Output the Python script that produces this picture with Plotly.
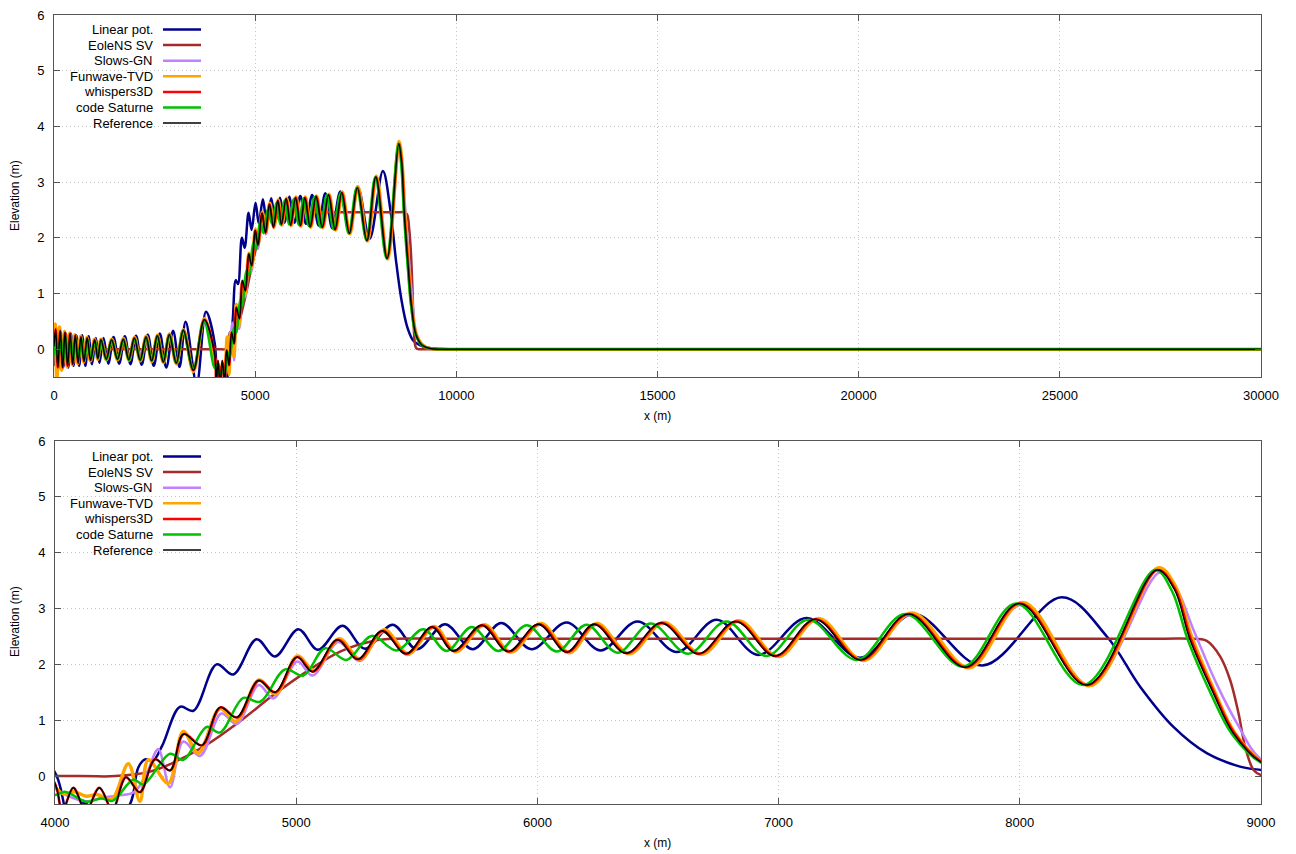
import plotly.graph_objects as go

# ---------------- data ----------------
series_names = ["Linear pot.", "EoleNS SV", "Slows-GN", "Funwave-TVD",
                "whispers3D", "code Saturne", "Reference"]

lin_x = [0, 50, 110, 170, 230, 295, 355, 420, 485, 555, 625, 700, 780, 860, 945, 1040, 1130, 1230, 1350, 1480,
         1620, 1760, 1900, 2040, 2180, 2330, 2480, 2630, 2790, 2960, 3120, 3272, 3546, 3778, 3993, 4060, 4120, 4220, 4311, 4345,
         4373, 4405, 4445, 4518, 4574, 4670, 4739, 4836, 4912, 5009, 5090, 5192, 5285, 5400, 5500, 5617, 5732, 5850, 5975, 6121,
         6262, 6415, 6578, 6743, 6916, 7116, 7338, 7560, 7845, 8174, 8361, 8499, 8637, 8775, 8913, 9000, 9200, 9500, 9800, 10100,
         30000]
lin_y = [-0.30, 0.28, -0.35, 0.30, -0.33, 0.28, -0.33, 0.28, -0.30, 0.25, -0.30, 0.25, -0.30, 0.23, -0.27, 0.20, -0.25, 0.20, -0.26, 0.22,
         -0.26, 0.23, -0.27, 0.24, -0.28, 0.26, -0.30, 0.28, -0.33, 0.33, -0.32, 0.49, -0.62, 0.67, 0.11, -0.75, -0.48, -0.90, -0.50, 0.15,
         0.30, 0.27, 0.55, 1.24, 1.17, 2.00, 1.82, 2.45, 2.14, 2.63, 2.26, 2.69, 2.28, 2.71, 2.27, 2.72, 2.27, 2.74, 2.27, 2.75,
         2.25, 2.77, 2.22, 2.80, 2.17, 2.83, 2.12, 2.90, 1.98, 3.20, 2.50, 1.60, 0.88, 0.41, 0.17, 0.11, 0.04, 0.01, 0.0, 0.0,
         0.0]

eole_x = [0, 4100, 4250, 4394, 4491, 4629, 4767, 4905, 5043, 5182, 5320, 5420, 5600, 8600, 8700, 8775, 8831, 8872, 8907, 8934,
          8969, 9000, 9050, 9100, 30000]
eole_y = [0.0, 0.0, 0.0, 0.08, 0.24, 0.56, 0.98, 1.45, 1.87, 2.23, 2.42, 2.46, 2.46, 2.46, 2.46, 2.42, 2.14, 1.72, 1.12, 0.53,
          0.11, 0.02, 0.0, 0.0, 0.0]

slo_x = [0, 45, 100, 160, 220, 282, 345, 405, 470, 535, 605, 675, 750, 830, 915, 1012, 1092, 1170, 1302, 1435,
         1580, 1725, 1862, 1999, 2144, 2289, 2430, 2570, 2720, 2869, 3042, 3218, 3466, 3740, 3993, 4050, 4130, 4200, 4260, 4330,
         4380, 4428, 4477, 4532, 4601, 4690, 4753, 4845, 4905, 5005, 5068, 5175, 5262, 5362, 5462, 5570, 5660, 5777, 5887, 6012,
         6130, 6244, 6376, 6520, 6676, 6830, 6994, 7160, 7350, 7548, 7790, 8008, 8290, 8582, 8650, 8720, 8815, 8900, 9000, 9150,
         9350, 9700, 10000, 30000]
slo_y = [0.0, 0.28, -0.28, 0.28, -0.28, 0.26, -0.26, 0.25, -0.25, 0.22, -0.22, 0.20, -0.20, 0.18, -0.18, 0.16, -0.16, 0.16, -0.17, 0.16,
         -0.17, 0.17, -0.18, 0.19, -0.19, 0.21, -0.20, 0.23, -0.22, 0.25, -0.24, 0.33, -0.37, 0.52, -0.20, -0.35, -0.45, -0.38, -0.35, -0.28,
         0.05, 0.48, -0.20, 0.62, 0.36, 1.12, 0.93, 1.63, 1.39, 2.05, 1.80, 2.40, 2.06, 2.58, 2.17, 2.66, 2.22, 2.69, 2.22, 2.71,
         2.21, 2.71, 2.20, 2.73, 2.18, 2.76, 2.14, 2.80, 2.08, 2.89, 1.95, 3.07, 1.63, 3.65, 3.35, 2.62, 1.66, 0.95, 0.30, 0.09,
         0.01, 0.0, 0.0, 0.0]

fun_x = [0, 30, 70, 135, 195, 260, 325, 390, 455, 520, 590, 662, 738, 818, 905, 1005, 1088, 1168, 1300, 1436,
         1580, 1726, 1862, 2000, 2145, 2290, 2430, 2572, 2720, 2870, 3042, 3220, 3465, 3740, 3993, 4036, 4080, 4130, 4175, 4235,
         4304, 4352, 4387, 4470, 4532, 4594, 4684, 4750, 4845, 4915, 5005, 5075, 5178, 5265, 5365, 5465, 5572, 5662, 5780, 5890,
         6015, 6133, 6246, 6380, 6524, 6680, 6835, 6998, 7165, 7352, 7552, 7790, 8012, 8290, 8575, 8645, 8712, 8807, 8890, 9000,
         9150, 9350, 9700, 10000, 30000]
fun_y = [0.20, 0.45, -0.55, 0.40, -0.38, 0.32, -0.32, 0.29, -0.28, 0.26, -0.26, 0.23, -0.23, 0.21, -0.21, 0.18, -0.18, 0.18, -0.19, 0.18,
         -0.19, 0.19, -0.20, 0.21, -0.21, 0.23, -0.22, 0.25, -0.24, 0.27, -0.26, 0.35, -0.40, 0.55, -0.18, -0.32, -0.28, -0.36, -0.33, -0.42,
         0.22, -0.45, 0.29, -0.13, 0.80, 0.41, 1.21, 0.98, 1.72, 1.47, 2.15, 1.89, 2.46, 2.09, 2.62, 2.19, 2.68, 2.23, 2.71, 2.22,
         2.73, 2.21, 2.73, 2.19, 2.75, 2.18, 2.78, 2.14, 2.82, 2.07, 2.92, 1.94, 3.11, 1.62, 3.73, 3.40, 2.50, 1.52, 0.78, 0.27,
         0.08, 0.01, 0.0, 0.0, 0.0]

whi_x = [0, 40, 95, 155, 215, 275, 340, 400, 465, 530, 600, 670, 745, 825, 910, 1010, 1090, 1168, 1300, 1433,
         1578, 1723, 1860, 1997, 2142, 2287, 2428, 2568, 2718, 2867, 3040, 3215, 3463, 3737, 3990, 4030, 4076, 4128, 4184, 4238,
         4294, 4352, 4415, 4477, 4534, 4610, 4686, 4756, 4846, 4915, 5005, 5071, 5173, 5258, 5358, 5458, 5566, 5655, 5773, 5882,
         6008, 6125, 6238, 6371, 6516, 6671, 6826, 6989, 7155, 7344, 7542, 7779, 8002, 8282, 8571, 8643, 8709, 8805, 8888, 9000,
         9150, 9350, 9700, 10000, 30000]
whi_y = [0.05, 0.36, -0.33, 0.33, -0.33, 0.30, -0.30, 0.28, -0.27, 0.25, -0.25, 0.22, -0.22, 0.20, -0.20, 0.17, -0.17, 0.17, -0.18, 0.17,
         -0.18, 0.18, -0.19, 0.20, -0.20, 0.22, -0.21, 0.24, -0.23, 0.26, -0.25, 0.34, -0.38, 0.53, -0.06, -0.62, -0.21, -0.62, -0.21, -0.60,
         -0.02, -0.29, 0.30, 0.10, 0.75, 0.55, 1.23, 1.05, 1.71, 1.50, 2.13, 1.87, 2.44, 2.09, 2.60, 2.19, 2.67, 2.24, 2.70, 2.23,
         2.72, 2.22, 2.72, 2.20, 2.74, 2.19, 2.77, 2.15, 2.81, 2.08, 2.90, 1.95, 3.09, 1.63, 3.69, 3.36, 2.46, 1.50, 0.78, 0.26,
         0.07, 0.01, 0.0, 0.0, 0.0]

sat_x = [0, 50, 105, 165, 225, 285, 350, 410, 475, 540, 610, 680, 755, 835, 920, 1015, 1095, 1170, 1300, 1435,
         1580, 1725, 1862, 1999, 2144, 2289, 2430, 2570, 2720, 2869, 3042, 3210, 3460, 3730, 3993, 4041, 4131, 4190, 4240, 4325,
         4366, 4477, 4532, 4629, 4684, 4781, 4850, 4954, 5030, 5120, 5209, 5313, 5417, 5527, 5624, 5728, 5838, 5956, 6080, 6204,
         6332, 6470, 6625, 6784, 6950, 7123, 7324, 7525, 7766, 7985, 8264, 8561, 8630, 8698, 8795, 8880, 9000, 9150, 9350, 9700,
         10000, 30000]
sat_y = [-0.10, 0.22, -0.22, 0.25, -0.25, 0.24, -0.24, 0.22, -0.22, 0.20, -0.20, 0.20, -0.20, 0.18, -0.18, 0.16, -0.17, 0.17, -0.19, 0.17,
         -0.19, 0.18, -0.20, 0.19, -0.20, 0.21, -0.21, 0.23, -0.23, 0.25, -0.25, 0.33, -0.36, 0.50, -0.34, -0.28, -0.46, -0.40, -0.44, -0.06,
         -0.15, 0.40, 0.29, 0.88, 0.78, 1.40, 1.33, 1.91, 1.80, 2.29, 2.08, 2.51, 2.25, 2.63, 2.24, 2.67, 2.24, 2.70, 2.23, 2.71,
         2.21, 2.73, 2.19, 2.77, 2.15, 2.80, 2.08, 2.90, 1.96, 3.09, 1.63, 3.69, 3.32, 2.42, 1.45, 0.75, 0.24, 0.07, 0.01, 0.0,
         0.0, 0.0]

ref_x = [0, 40, 95, 155, 215, 275, 340, 400, 465, 530, 600, 670, 745, 825, 910, 1010, 1090, 1168, 1300, 1433,
         1578, 1723, 1860, 1997, 2142, 2287, 2428, 2568, 2718, 2867, 3040, 3215, 3463, 3737, 3990, 4030, 4076, 4128, 4184, 4238,
         4294, 4352, 4415, 4477, 4532, 4608, 4684, 4753, 4843, 4912, 5002, 5068, 5170, 5255, 5355, 5455, 5562, 5651, 5769, 5878,
         6004, 6121, 6234, 6367, 6512, 6667, 6822, 6985, 7151, 7340, 7538, 7775, 7998, 8278, 8568, 8640, 8706, 8802, 8885, 9000,
         9150, 9350, 9700, 10000, 30000]
ref_y = [0.05, 0.35, -0.32, 0.33, -0.33, 0.30, -0.30, 0.28, -0.27, 0.25, -0.25, 0.22, -0.22, 0.20, -0.20, 0.17, -0.17, 0.17, -0.18, 0.17,
         -0.18, 0.18, -0.19, 0.20, -0.20, 0.22, -0.21, 0.24, -0.23, 0.26, -0.25, 0.34, -0.38, 0.53, -0.06, -0.62, -0.21, -0.62, -0.21, -0.60,
         -0.02, -0.29, 0.30, 0.10, 0.75, 0.55, 1.23, 1.05, 1.71, 1.50, 2.13, 1.87, 2.44, 2.09, 2.60, 2.19, 2.67, 2.24, 2.70, 2.23,
         2.72, 2.22, 2.72, 2.20, 2.74, 2.19, 2.77, 2.15, 2.81, 2.08, 2.90, 1.95, 3.09, 1.63, 3.69, 3.35, 2.44, 1.49, 0.77, 0.25,
         0.07, 0.01, 0.0, 0.0, 0.0]

x_ticks_top = [0, 5000, 10000, 15000, 20000, 25000, 30000]
x_ticks_bottom = [4000, 5000, 6000, 7000, 8000, 9000]
y_ticks = [0, 1, 2, 3, 4, 5, 6]

# ---------------- styling ----------------
W, H = 1296, 854
colors = ["#00008b", "#a52a2a", "#c080ff", "#ffa500", "#ff0000", "#00c000", "#000000"]
widths = [2.5, 2.5, 2.5, 3.5, 2.5, 2.5, 1.5]
data = [(lin_x, lin_y), (eole_x, eole_y), (slo_x, slo_y), (fun_x, fun_y),
        (whi_x, whi_y), (sat_x, sat_y), (ref_x, ref_y)]
FONT = "Arial, Liberation Sans, sans-serif"

fig = go.Figure()
for xa, ya in [("x", "y"), ("x2", "y2")]:
    for (xs, ys), c, w, nm in zip(data, colors, widths, series_names):
        fig.add_trace(go.Scatter(x=xs, y=ys, mode="lines", name=nm,
                                 line=dict(color=c, width=w, shape="spline", smoothing=1.0),
                                 xaxis=xa, yaxis=ya, showlegend=False, hoverinfo="skip"))

axc = dict(showline=True, linecolor="#555555", linewidth=1, mirror="ticks",
           ticks="inside", ticklen=6, tickcolor="#555555", tickwidth=1,
           showgrid=True, gridcolor="#c4c4c4", griddash="1px,3px", gridwidth=1,
           zeroline=False, automargin=False, tickformat="d",
           tickfont=dict(family=FONT, size=13, color="#000000"))

fig.update_layout(
    template="none",
    width=W, height=H, margin=dict(l=0, r=0, t=0, b=0, pad=0), autosize=False,
    paper_bgcolor="white", plot_bgcolor="white", showlegend=False,
    xaxis=dict(domain=[54 / W, 1261 / W], range=[0, 30000], tickvals=x_ticks_top,
               anchor="y", ticklabelstandoff=6, **axc),
    yaxis=dict(domain=[1 - 377 / H, 1 - 15 / H], range=[-0.5, 6], tickvals=y_ticks,
               anchor="x", ticklabelstandoff=6, **axc),
    xaxis2=dict(domain=[55 / W, 1261 / W], range=[4000, 9000], tickvals=x_ticks_bottom,
                anchor="y2", ticklabelstandoff=6, **axc),
    yaxis2=dict(domain=[1 - 804 / H, 1 - 441 / H], range=[-0.5, 6], tickvals=y_ticks,
                anchor="x2", ticklabelstandoff=6, **axc),
)

ann = []
shapes = []
# axis titles
for ycen in [196, 622]:
    ann.append(dict(text="Elevation (m)", x=15 / W, y=1 - ycen / H, xref="paper", yref="paper",
                    textangle=-90, showarrow=False, font=dict(family=FONT, size=12, color="black"),
                    xanchor="center", yanchor="middle"))
for ycen in [416, 843]:
    ann.append(dict(text="x (m)", x=657 / W, y=1 - ycen / H, xref="paper", yref="paper",
                    showarrow=False, font=dict(family=FONT, size=12, color="black"),
                    xanchor="center", yanchor="middle"))
# opaque key boxes (hide grid behind the key, like gnuplot "key opaque")
for top, bot in [(16, 133), (442, 559)]:
    shapes.append(dict(type="rect", xref="paper", yref="paper", layer="between",
                       x0=56 / W, x1=207 / W, y0=1 - bot / H, y1=1 - top / H,
                       fillcolor="white", line=dict(width=0)))
# gnuplot-style legends (text then line sample)
for first_row in [29.5, 456.5]:
    for i, (nm, c, w) in enumerate(zip(series_names, colors, widths)):
        yr = 1 - (first_row + i * 15.6) / H
        ann.append(dict(text=nm, x=155 / W, y=yr, xref="paper", yref="paper", showarrow=False,
                        xanchor="right", yanchor="middle",
                        font=dict(family=FONT, size=13, color="black")))
        shapes.append(dict(type="line", xref="paper", yref="paper", x0=163 / W, x1=201 / W,
                           y0=yr, y1=yr, line=dict(color=c, width=min(w, 2.5))))
fig.update_layout(annotations=ann, shapes=shapes)

fig.write_html("out.html")
